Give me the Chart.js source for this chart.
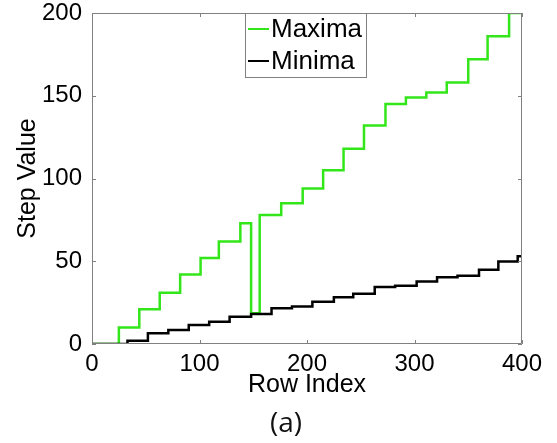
<!DOCTYPE html>
<html>
<head>
<meta charset="utf-8">
<script src="https://cdn.jsdelivr.net/npm/chart.js@4.4.0/dist/chart.umd.min.js"></script>
<style>
  html, body { margin: 0; padding: 0; background: #fff; }
  #wrap { position: relative; width: 557px; height: 443px; }
  #cap { position: absolute; left: 270px; top: 402px; font: 28px "Open Sans", sans-serif; color: #111; }
</style>
</head>
<body>
<div id="wrap">
  <canvas id="chart" width="557" height="443"></canvas>
  <div id="cap">(a)</div>
</div>
<script>
// step positions (row index) and step levels
const maxRows = [0, 25, 44, 63, 82, 101, 118, 138, 148, 156, 176, 196, 215, 234, 253, 273, 292, 311, 330, 350, 368, 388, 400];
const maxVals = [0, 10, 21, 31, 42, 52, 62, 73, 18.6, 78, 85, 94, 105, 118, 132, 145, 149, 152, 158, 172, 186, 200, 200];

const minRows = [0, 33, 52, 71, 90, 109, 128, 148, 167, 186, 205, 225, 243, 263, 282, 302, 321, 340, 360, 378, 396, 400];
const minVals = [0, 2, 6.5, 8.5, 11.5, 13.5, 16.5, 18.2, 21.6, 22.6, 25.6, 28.3, 30.3, 34.4, 35.2, 37.8, 40.4, 41.2, 44.8, 49.9, 53, 53];

const seriesNames = ['Maxima', 'Minima'];
const seriesColors = ['#33e619', '#000000'];

const xTicks = [0, 100, 200, 300, 400];
const yTicks = [0, 50, 100, 150, 200];

function toPoints(xs, ys) {
  return xs.map((x, i) => ({ x: x, y: ys[i] }));
}

const FONT = '"Liberation Sans", Arial, sans-serif';

// box around the axes, inward ticks, legend inside the plot
const boxPlugin = {
  id: 'boxPlugin',
  afterDraw(chart) {
    const ctx = chart.ctx;
    const a = chart.chartArea;
    const xs = chart.scales.x, ys = chart.scales.y;
    ctx.save();
    ctx.strokeStyle = '#808080';
    ctx.lineWidth = 1;
    ctx.beginPath();
    ctx.rect(a.left + 0.5, a.top + 0.5, a.right - a.left - 1, a.bottom - a.top - 1);
    ctx.stroke();
    ctx.beginPath();
    xTicks.forEach(v => {
      const px = Math.round(xs.getPixelForValue(v)) + 0.5;
      ctx.moveTo(px, a.bottom); ctx.lineTo(px, a.bottom - 4);
      ctx.moveTo(px, a.top); ctx.lineTo(px, a.top + 4);
    });
    yTicks.forEach(v => {
      const py = Math.round(ys.getPixelForValue(v)) + 0.5;
      ctx.moveTo(a.left, py); ctx.lineTo(a.left + 4, py);
      ctx.moveTo(a.right, py); ctx.lineTo(a.right - 4, py);
    });
    ctx.stroke();

    // legend
    const lx = 245, ly = 13, lw = 121, lh = 64;
    ctx.fillStyle = '#fff';
    ctx.fillRect(lx, ly, lw, lh);
    ctx.strokeStyle = '#808080';
    ctx.strokeRect(lx + 0.5, ly + 0.5, lw, lh);
    ctx.font = '26px ' + FONT;
    ctx.textBaseline = 'middle';
    seriesNames.forEach((name, i) => {
      const cy = ly + 16 + i * 32;
      ctx.strokeStyle = seriesColors[i];
      ctx.lineWidth = 2;
      ctx.beginPath();
      ctx.moveTo(lx + 3, cy); ctx.lineTo(lx + 24, cy);
      ctx.stroke();
      ctx.fillStyle = '#000';
      ctx.fillText(name, lx + 26, cy + 1);
    });
    ctx.restore();
  }
};

new Chart(document.getElementById('chart'), {
  type: 'line',
  data: {
    datasets: [
      {
        label: seriesNames[0],
        data: toPoints(maxRows, maxVals),
        borderColor: seriesColors[0],
        borderWidth: 2.5,
        pointRadius: 0,
        stepped: true,
        fill: false,
        order: 1
      },
      {
        label: seriesNames[1],
        data: toPoints(minRows, minVals),
        borderColor: seriesColors[1],
        borderWidth: 2.5,
        pointRadius: 0,
        stepped: true,
        fill: false,
        order: 0
      }
    ]
  },
  options: {
    responsive: false,
    animation: false,
    layout: { padding: { left: 0, top: 0, right: 35, bottom: 43 } },
    plugins: {
      legend: { display: false },
      tooltip: { enabled: false }
    },
    scales: {
      x: {
        type: 'linear',
        min: 0, max: 400,
        afterFit(s) { s.height = 56; },
        afterBuildTicks(s) { s.ticks = xTicks.map(v => ({ value: v })); },
        grid: { display: false },
        border: { display: false },
        ticks: { color: '#000', font: { family: FONT, size: 24 }, padding: -2, maxRotation: 0 },
        title: { display: true, text: 'Row Index', color: '#000', font: { family: FONT, size: 25 }, padding: { top: 0, bottom: 0 } }
      },
      y: {
        min: 0, max: 200,
        afterFit(s) { s.width = 92; s.paddingTop = 13; },
        afterBuildTicks(s) { s.ticks = yTicks.map(v => ({ value: v })); },
        grid: { display: false },
        border: { display: false },
        ticks: { color: '#000', font: { family: FONT, size: 24 }, padding: 2 },
        title: { display: true, text: 'Step Value', color: '#000', font: { family: FONT, size: 25 }, padding: { top: 13, bottom: 0 } }
      }
    }
  },
  plugins: [boxPlugin]
});
</script>
</body>
</html>
